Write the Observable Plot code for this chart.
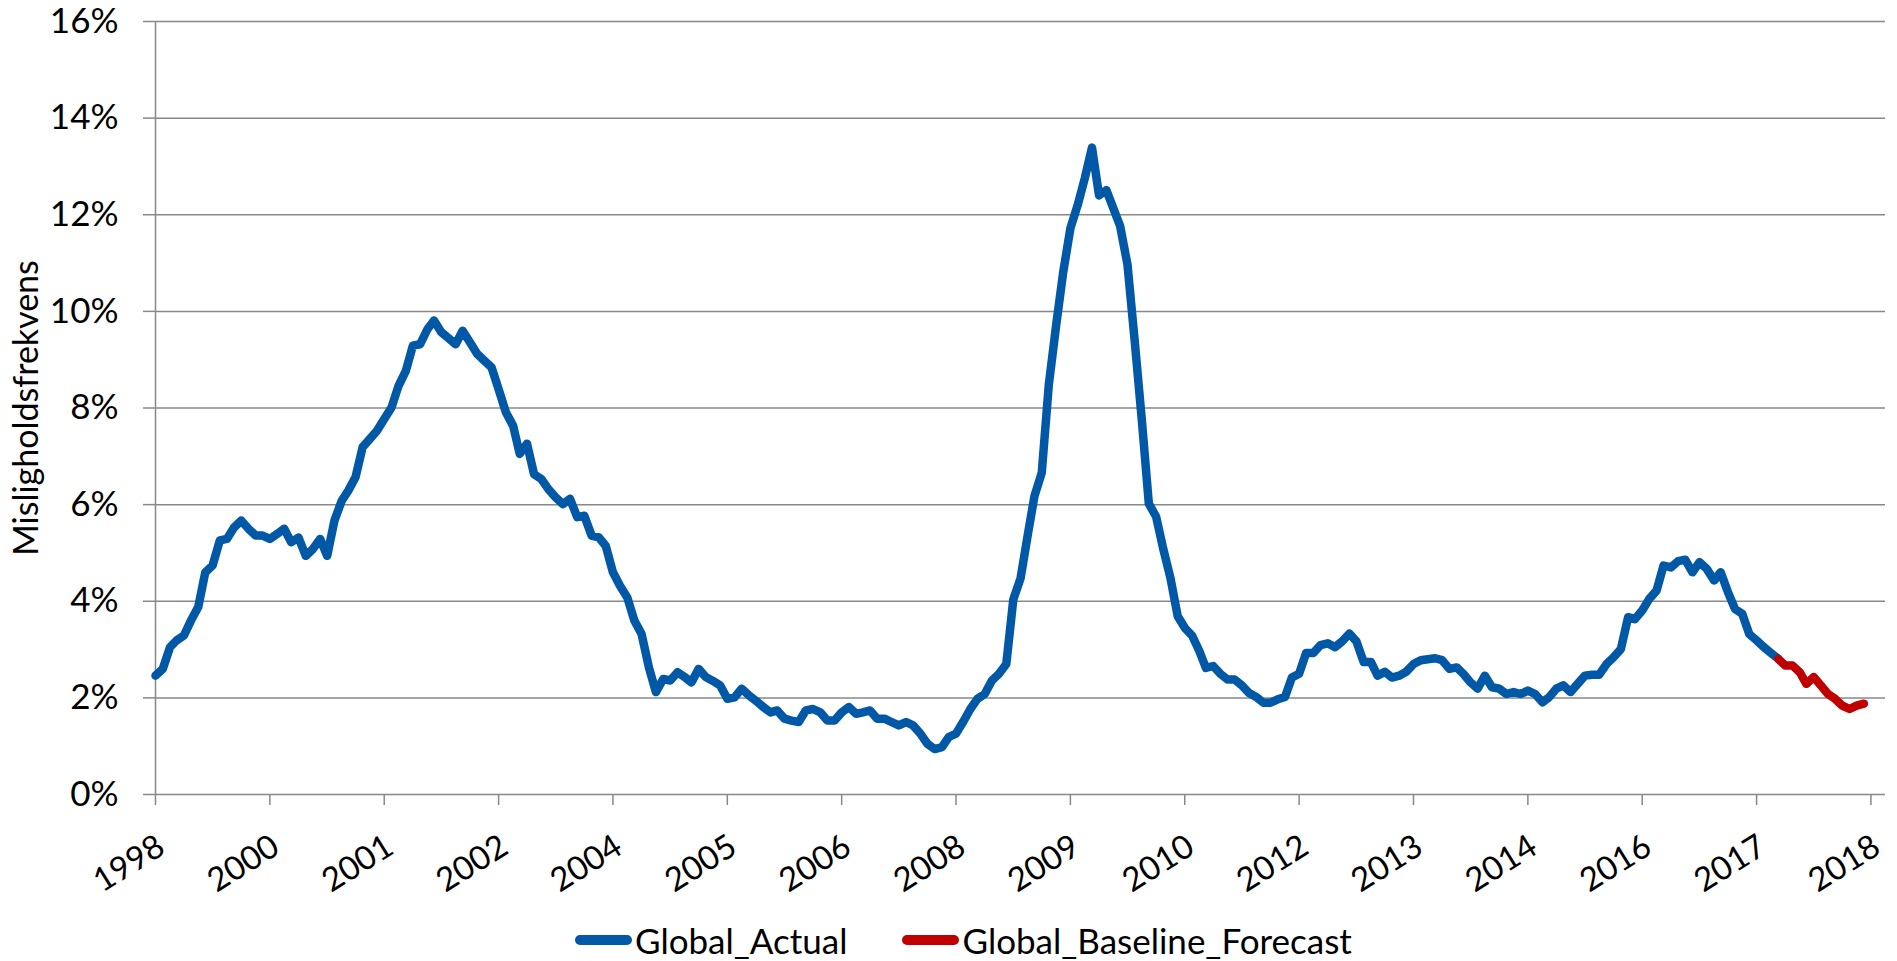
<!DOCTYPE html>
<html>
<head>
<meta charset="utf-8">
<script src="https://cdn.jsdelivr.net/npm/d3@7"></script>
<script src="https://cdn.jsdelivr.net/npm/@observablehq/plot@0.6"></script>
<style>
  html, body { margin: 0; padding: 0; background: #fff; }
  body { width: 1897px; height: 961px; position: relative; overflow: hidden; font-family: Lato, "Open Sans", sans-serif; }
  #chart svg { display: block; }
  #legend { position: absolute; left: 575px; top: 922px; height: 36px; display: flex; align-items: center; font-size: 35px; color: #000; white-space: nowrap; }
  #legend .item { display: flex; align-items: center; }
  #legend .item + .item { margin-left: 55px; }
  #legend .swatch { display: inline-block; width: 57px; height: 10px; border-radius: 5px; margin-right: 3px; }
</style>
</head>
<body>
<div id="chart"></div>
<div id="legend"></div>
<script>
// Monthly default frequency (%), first observation December 1998
const firstMonth = "1998-12-01";
const actualValues = [
  2.46, 2.60, 3.05, 3.19, 3.29, 3.60, 3.88, 4.60, 4.74, 5.26,
  5.29, 5.53, 5.67, 5.50, 5.36, 5.36, 5.29, 5.39, 5.50, 5.22,
  5.32, 4.94, 5.08, 5.29, 4.94, 5.67, 6.08, 6.29, 6.57, 7.19,
  7.36, 7.53, 7.77, 8.01, 8.46, 8.77, 9.29, 9.32, 9.63, 9.81,
  9.57, 9.45, 9.32, 9.60, 9.36, 9.12, 8.98, 8.84, 8.39, 7.91,
  7.63, 7.05, 7.26, 6.63, 6.53, 6.32, 6.15, 6.01, 6.12, 5.74,
  5.77, 5.36, 5.32, 5.15, 4.60, 4.32, 4.08, 3.60, 3.32, 2.63,
  2.12, 2.39, 2.36, 2.53, 2.43, 2.32, 2.60, 2.43, 2.35, 2.26,
  1.98, 2.01, 2.19, 2.05, 1.94, 1.81, 1.70, 1.74, 1.57, 1.53,
  1.50, 1.74, 1.77, 1.70, 1.53, 1.53, 1.70, 1.81, 1.67, 1.70,
  1.74, 1.57, 1.57, 1.50, 1.43, 1.50, 1.43, 1.26, 1.05, 0.94,
  0.98, 1.19, 1.26, 1.50, 1.77, 1.98, 2.08, 2.36, 2.50, 2.70,
  4.04, 4.48, 5.39, 6.18, 6.66, 8.48, 9.70, 10.80, 11.72, 12.20,
  12.75, 13.39, 12.40, 12.51, 12.12, 11.76, 10.97, 9.43, 7.76, 6.02,
  5.75, 5.07, 4.48, 3.69, 3.45, 3.29, 2.97, 2.62, 2.66, 2.50,
  2.38, 2.38, 2.26, 2.10, 2.02, 1.90, 1.90, 1.97, 2.02, 2.42,
  2.50, 2.93, 2.93, 3.09, 3.13, 3.05, 3.17, 3.33, 3.17, 2.74,
  2.74, 2.46, 2.54, 2.42, 2.46, 2.54, 2.70, 2.78, 2.80, 2.82,
  2.78, 2.60, 2.63, 2.50, 2.32, 2.19, 2.46, 2.22, 2.19, 2.08,
  2.12, 2.08, 2.15, 2.08, 1.91, 2.01, 2.19, 2.26, 2.12, 2.29,
  2.46, 2.48, 2.48, 2.70, 2.84, 3.01, 3.67, 3.63, 3.81, 4.05,
  4.22, 4.74, 4.70, 4.83, 4.86, 4.60, 4.81, 4.67, 4.43, 4.60,
  4.19, 3.84, 3.74, 3.32, 3.19, 3.05, 2.93, 2.81
];

// Baseline forecast, starting at the last actual month
const forecastStartIndex = 227;
const forecastValues = [2.81, 2.67, 2.67, 2.53, 2.29, 2.43, 2.26, 2.08, 1.98, 1.84, 1.77, 1.84, 1.88];

// Axis setup
const tickStepMonths = 16;
const tickLabels = ["1998", "2000", "2001", "2002", "2004", "2005", "2006", "2008",
                    "2009", "2010", "2012", "2013", "2014", "2016", "2017", "2018"];
const axisMonths = 242;
const yTicks = [0, 2, 4, 6, 8, 10, 12, 14, 16];
const yTitle = "Misligholdsfrekvens";

const seriesNames = ["Global_Actual", "Global_Baseline_Forecast"];
const seriesColors = ["#0058a7", "#c00000"];
const gridColor = "#888888";

const start = new Date(firstMonth);
const monthAt = (i) => d3.utcMonth.offset(start, i);

const actual = actualValues.map((value, i) => ({date: monthAt(i), value}));
const forecast = forecastValues.map((value, i) => ({date: monthAt(forecastStartIndex + i), value}));
const tickDates = tickLabels.map((_, i) => monthAt(i * tickStepMonths));
const labelByTime = new Map(tickDates.map((d, i) => [+d, tickLabels[i]]));

const chart = Plot.plot({
  width: 1897,
  height: 900,
  marginLeft: 155,
  marginRight: 12,
  marginTop: 21,
  marginBottom: 106,
  style: {fontFamily: "Lato, 'Open Sans', sans-serif", fontSize: "35px", color: "#000", background: "#fff", overflow: "visible"},
  x: {type: "utc", domain: [start, monthAt(axisMonths)]},
  y: {domain: [0, 16]},
  marks: [
    // horizontal gridlines
    Plot.ruleY(yTicks, {stroke: gridColor, strokeWidth: 1.5}),
    // vertical axis line
    Plot.ruleX([start], {y1: 0, y2: 16, stroke: gridColor, strokeWidth: 1.5}),
    Plot.axisY({
      ticks: yTicks, tickSize: 12, tickPadding: 25,
      tickFormat: (d) => `${d}%`, stroke: gridColor, strokeWidth: 1.5, label: null
    }),
    Plot.axisX({
      ticks: tickDates, tickSize: 11, tickFormat: () => "",
      stroke: gridColor, strokeWidth: 1.5, label: null
    }),
    // rotated year labels under the ticks
    Plot.text(tickDates, {
      x: (d) => d, text: (d) => labelByTime.get(+d),
      frameAnchor: "bottom", rotate: -32, textAnchor: "end", lineAnchor: "middle",
      dx: 6, dy: 49, fontSize: 33, fill: "#000"
    }),
    // y-axis title
    Plot.text([yTitle], {
      frameAnchor: "left", dx: -128, rotate: -90,
      textAnchor: "middle", lineAnchor: "middle", fontSize: 34, fill: "#000"
    }),
    Plot.line(actual, {
      x: "date", y: "value", stroke: seriesColors[0], strokeWidth: 8.5,
      strokeLinejoin: "round", strokeLinecap: "round"
    }),
    Plot.line(forecast, {
      x: "date", y: "value", stroke: seriesColors[1], strokeWidth: 8.5,
      strokeLinejoin: "round", strokeLinecap: "round"
    })
  ]
});
document.getElementById("chart").append(chart);

// Legend below the chart
const legend = document.getElementById("legend");
seriesNames.forEach((name, i) => {
  const item = document.createElement("div");
  item.className = "item";
  const sw = document.createElement("span");
  sw.className = "swatch";
  sw.style.background = seriesColors[i];
  const label = document.createElement("span");
  label.textContent = name;
  item.append(sw, label);
  legend.append(item);
});
</script>
</body>
</html>
